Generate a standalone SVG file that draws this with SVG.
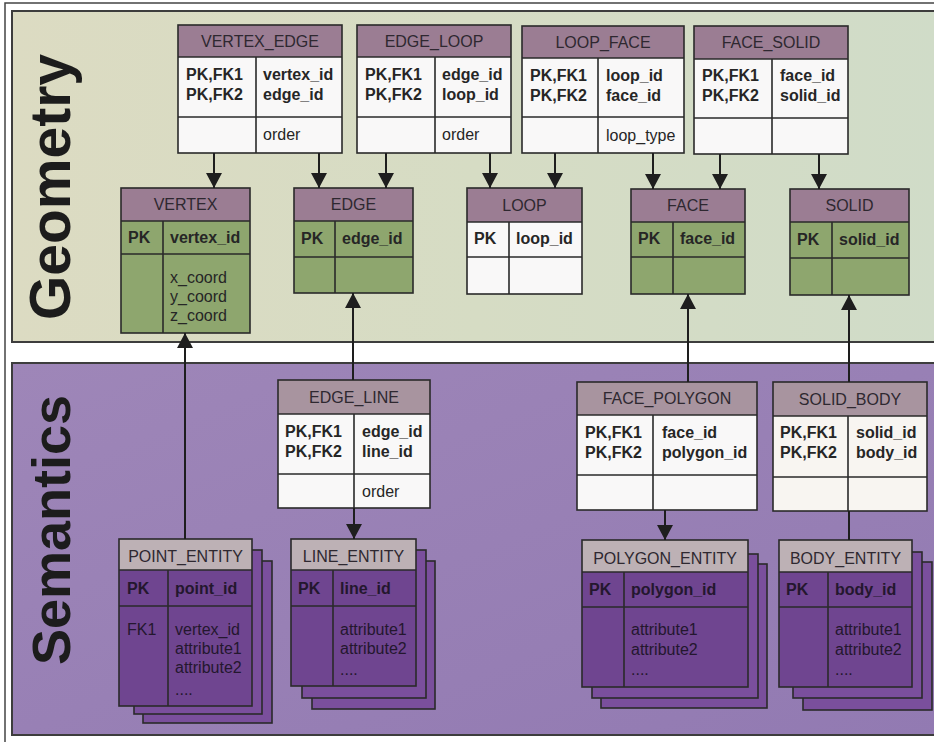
<svg xmlns="http://www.w3.org/2000/svg" width="934" height="742" viewBox="0 0 934 742">
<defs>
<linearGradient id="geoBg" x1="0" y1="0" x2="1" y2="0">
<stop offset="0" stop-color="#dcdbc2"/>
<stop offset="0.5" stop-color="#d6dcc4"/>
<stop offset="1" stop-color="#d0dcc8"/>
</linearGradient>
<linearGradient id="semBg" x1="0" y1="0" x2="1" y2="1">
<stop offset="0" stop-color="#9e86b8"/>
<stop offset="1" stop-color="#927ab2"/>
</linearGradient>
<marker id="arr" markerUnits="userSpaceOnUse" markerWidth="16" markerHeight="16" refX="15" refY="8" orient="auto">
<path d="M0,0 L15,8 L0,16 z" fill="#1e1e1e"/>
</marker>
</defs>
<style>
.frame{fill:none;stroke:#444;stroke-width:1.5}
.panel{stroke:#3d3d3d;stroke-width:2}
.ln{stroke:#2a2a2a;stroke-width:1.6;fill:none}
.hdrG{fill:#9b7d93}
.hdrS{fill:#a8949f}
.hdrE{fill:#bdb1b5}
.wh{fill:#f9f8f8}
.gr{fill:#8ea66e}
.pu{fill:#6f4590}
.pu2{fill:#7a4f9c}
.t{font-family:"Liberation Sans",Arial,sans-serif;font-size:16px;fill:#262626}
.b{font-weight:bold}
.h{text-anchor:middle;fill:#2e2830}
.te{fill:#24172e}
.big{font-family:"Liberation Sans",Arial,sans-serif;font-weight:bold;fill:#1c1c1c}
.conn{stroke:#1e1e1e;stroke-width:2;fill:none}
</style>

<!-- background frame -->
<rect x="0" y="0" width="934" height="742" fill="#ffffff"/>
<path class="frame" d="M5,742 L5,3 L934,3"/>

<!-- panels -->
<g id="geometry-panel">
<rect class="panel" x="12" y="11" width="930" height="331" fill="url(#geoBg)"/>
<text class="big" font-size="57" transform="translate(70,187) rotate(-90)" text-anchor="middle">Geometry</text>
</g>
<g id="semantics-panel">
<rect class="panel" x="12" y="363" width="930" height="372" fill="url(#semBg)"/>
<text class="big" font-size="54" transform="translate(70,530) rotate(-90)" text-anchor="middle">Semantics</text>
</g>

<!-- Geometry association tables -->
<g id="vertex_edge">
<rect class="hdrG" x="178" y="25" width="164" height="32"/>
<rect class="wh" x="178" y="57" width="164" height="96"/>
<rect class="ln" x="178" y="25" width="164" height="128"/>
<path class="ln" d="M178,57 H342 M178,117 H342 M256,57 V153"/>
<text class="t h" x="260" y="47">VERTEX_EDGE</text>
<text class="t b" x="186" y="80">PK,FK1</text>
<text class="t b" x="186" y="100">PK,FK2</text>
<text class="t b" x="263" y="80">vertex_id</text>
<text class="t b" x="263" y="100">edge_id</text>
<text class="t" x="263" y="140">order</text>
</g>
<g id="edge_loop">
<rect class="hdrG" x="357" y="25" width="154" height="32"/>
<rect class="wh" x="357" y="57" width="154" height="96"/>
<rect class="ln" x="357" y="25" width="154" height="128"/>
<path class="ln" d="M357,57 H511 M357,117 H511 M435,57 V153"/>
<text class="t h" x="434" y="47">EDGE_LOOP</text>
<text class="t b" x="365" y="80">PK,FK1</text>
<text class="t b" x="365" y="100">PK,FK2</text>
<text class="t b" x="442" y="80">edge_id</text>
<text class="t b" x="442" y="100">loop_id</text>
<text class="t" x="442" y="140">order</text>
</g>
<g id="loop_face">
<rect class="hdrG" x="522" y="26" width="162" height="32"/>
<rect class="wh" x="522" y="58" width="162" height="95"/>
<rect class="ln" x="522" y="26" width="162" height="127"/>
<path class="ln" d="M522,58 H684 M522,117 H684 M598,58 V153"/>
<text class="t h" x="603" y="48">LOOP_FACE</text>
<text class="t b" x="530" y="81">PK,FK1</text>
<text class="t b" x="530" y="101">PK,FK2</text>
<text class="t b" x="606" y="81">loop_id</text>
<text class="t b" x="606" y="101">face_id</text>
<text class="t" x="606" y="141">loop_type</text>
</g>
<g id="face_solid">
<rect class="hdrG" x="694" y="26" width="154" height="33"/>
<rect class="wh" x="694" y="59" width="154" height="95"/>
<rect class="ln" x="694" y="26" width="154" height="128"/>
<path class="ln" d="M694,59 H848 M694,118 H848 M772,59 V154"/>
<text class="t h" x="771" y="48">FACE_SOLID</text>
<text class="t b" x="702" y="81">PK,FK1</text>
<text class="t b" x="702" y="101">PK,FK2</text>
<text class="t b" x="780" y="81">face_id</text>
<text class="t b" x="780" y="101">solid_id</text>
</g>

<!-- Geometry main tables -->
<g id="vertex">
<rect class="hdrG" x="121" y="188" width="129" height="33"/>
<rect class="gr" x="121" y="221" width="129" height="112"/>
<rect class="ln" x="121" y="188" width="129" height="145"/>
<path class="ln" d="M121,221 H250 M121,254 H250 M163,221 V333"/>
<text class="t h" x="185.5" y="210">VERTEX</text>
<text class="t b" x="128" y="243">PK</text>
<text class="t b" x="170" y="243">vertex_id</text>
<text class="t" x="170" y="283">x_coord</text>
<text class="t" x="170" y="302">y_coord</text>
<text class="t" x="170" y="321">z_coord</text>
</g>
<g id="edge">
<rect class="hdrG" x="294" y="188" width="119" height="33"/>
<rect class="gr" x="294" y="221" width="119" height="72"/>
<rect class="ln" x="294" y="188" width="119" height="105"/>
<path class="ln" d="M294,221 H413 M294,257 H413 M335,221 V293"/>
<text class="t h" x="353.5" y="210">EDGE</text>
<text class="t b" x="301" y="244">PK</text>
<text class="t b" x="342" y="244">edge_id</text>
</g>
<g id="loop">
<rect class="hdrG" x="467" y="188" width="115" height="34"/>
<rect class="wh" x="467" y="222" width="115" height="72"/>
<rect class="ln" x="467" y="188" width="115" height="106"/>
<path class="ln" d="M467,222 H582 M467,257 H582 M509,222 V294"/>
<text class="t h" x="524.5" y="211">LOOP</text>
<text class="t b" x="474" y="244">PK</text>
<text class="t b" x="516" y="244">loop_id</text>
</g>
<g id="face">
<rect class="hdrG" x="631" y="189" width="114" height="33"/>
<rect class="gr" x="631" y="222" width="114" height="72"/>
<rect class="ln" x="631" y="189" width="114" height="105"/>
<path class="ln" d="M631,222 H745 M631,257 H745 M673,222 V294"/>
<text class="t h" x="688" y="211">FACE</text>
<text class="t b" x="638" y="244">PK</text>
<text class="t b" x="680" y="244">face_id</text>
</g>
<g id="solid">
<rect class="hdrG" x="790" y="189" width="119" height="33"/>
<rect class="gr" x="790" y="222" width="119" height="73"/>
<rect class="ln" x="790" y="189" width="119" height="106"/>
<path class="ln" d="M790,222 H909 M790,258 H909 M832,222 V295"/>
<text class="t h" x="849.5" y="211">SOLID</text>
<text class="t b" x="797" y="245">PK</text>
<text class="t b" x="839" y="245">solid_id</text>
</g>

<!-- Semantics association tables -->
<g id="edge_line">
<rect class="hdrS" x="278" y="380" width="152" height="34"/>
<rect class="wh" x="278" y="414" width="152" height="94"/>
<rect class="ln" x="278" y="380" width="152" height="128"/>
<path class="ln" d="M278,414 H430 M278,474 H430 M354,414 V508"/>
<text class="t h" x="354" y="403">EDGE_LINE</text>
<text class="t b" x="285" y="437">PK,FK1</text>
<text class="t b" x="285" y="457">PK,FK2</text>
<text class="t b" x="362" y="437">edge_id</text>
<text class="t b" x="362" y="457">line_id</text>
<text class="t" x="362" y="497">order</text>
</g>
<g id="face_polygon">
<rect class="hdrS" x="577" y="382" width="180" height="33"/>
<rect class="wh" x="577" y="415" width="180" height="95"/>
<rect class="ln" x="577" y="382" width="180" height="128"/>
<path class="ln" d="M577,415 H757 M577,475 H757 M653,415 V510"/>
<text class="t h" x="667" y="404">FACE_POLYGON</text>
<text class="t b" x="585" y="438">PK,FK1</text>
<text class="t b" x="585" y="458">PK,FK2</text>
<text class="t b" x="662" y="438">face_id</text>
<text class="t b" x="662" y="458">polygon_id</text>
</g>
<g id="solid_body">
<rect class="hdrS" x="773" y="382" width="154" height="34"/>
<rect x="773" y="416" width="154" height="95" fill="#f8f5f1"/>
<rect class="ln" x="773" y="382" width="154" height="129"/>
<path class="ln" d="M773,416 H927 M773,477 H927 M848,416 V511"/>
<text class="t h" x="850" y="405">SOLID_BODY</text>
<text class="t b" x="780" y="438">PK,FK1</text>
<text class="t b" x="780" y="458">PK,FK2</text>
<text class="t b" x="856" y="438">solid_id</text>
<text class="t b" x="856" y="458">body_id</text>
</g>

<!-- Semantics entity tables (stacked) -->
<g id="point_entity">
<rect class="pu2 ln" x="143" y="561" width="129" height="162"/>
<rect class="pu2 ln" x="134" y="550" width="128" height="164"/>
<rect class="hdrE" x="119" y="539" width="133" height="31"/>
<rect class="pu" x="119" y="570" width="133" height="136"/>
<rect class="ln" x="119" y="539" width="133" height="167"/>
<path class="ln" d="M119,570 H252 M119,606 H252 M168,570 V706"/>
<text class="t h" x="185.5" y="562">POINT_ENTITY</text>
<text class="t b te" x="127" y="594">PK</text>
<text class="t b te" x="175" y="594">point_id</text>
<text class="t te" x="127" y="635">FK1</text>
<text class="t te" x="175" y="635">vertex_id</text>
<text class="t te" x="175" y="654">attribute1</text>
<text class="t te" x="175" y="673">attribute2</text>
<text class="t te" x="175" y="695">....</text>
</g>
<g id="line_entity">
<rect class="pu2 ln" x="312" y="561" width="123" height="148"/>
<rect class="pu2 ln" x="302" y="550" width="124" height="148"/>
<rect class="hdrE" x="291" y="539" width="125" height="31"/>
<rect class="pu" x="291" y="570" width="125" height="116"/>
<rect class="ln" x="291" y="539" width="125" height="147"/>
<path class="ln" d="M291,570 H416 M291,606 H416 M333,570 V686"/>
<text class="t h" x="353.5" y="562">LINE_ENTITY</text>
<text class="t b te" x="298" y="594">PK</text>
<text class="t b te" x="340" y="594">line_id</text>
<text class="t te" x="340" y="635">attribute1</text>
<text class="t te" x="340" y="654">attribute2</text>
<text class="t te" x="340" y="675">....</text>
</g>
<g id="polygon_entity">
<rect class="pu2 ln" x="601" y="564" width="166" height="144"/>
<rect class="pu2 ln" x="592" y="554" width="166" height="144"/>
<rect class="hdrE" x="582" y="540" width="166" height="32"/>
<rect class="pu" x="582" y="572" width="166" height="115"/>
<rect class="ln" x="582" y="540" width="166" height="147"/>
<path class="ln" d="M582,572 H748 M582,607 H748 M624,572 V687"/>
<text class="t h" x="665" y="564">POLYGON_ENTITY</text>
<text class="t b te" x="589" y="595">PK</text>
<text class="t b te" x="631" y="595">polygon_id</text>
<text class="t te" x="631" y="635">attribute1</text>
<text class="t te" x="631" y="655">attribute2</text>
<text class="t te" x="631" y="675">....</text>
</g>
<g id="body_entity">
<rect class="pu2 ln" x="803" y="562" width="129" height="148"/>
<rect class="pu2 ln" x="793" y="552" width="129" height="146"/>
<rect class="hdrE" x="779" y="540" width="133" height="32"/>
<rect class="pu" x="779" y="572" width="133" height="115"/>
<rect class="ln" x="779" y="540" width="133" height="147"/>
<path class="ln" d="M779,572 H912 M779,607 H912 M828,572 V687"/>
<text class="t h" x="845.5" y="564">BODY_ENTITY</text>
<text class="t b te" x="786" y="595">PK</text>
<text class="t b te" x="835" y="595">body_id</text>
<text class="t te" x="835" y="635">attribute1</text>
<text class="t te" x="835" y="655">attribute2</text>
<text class="t te" x="835" y="675">....</text>
</g>

<!-- connectors -->
<g id="connectors">
<line class="conn" x1="214" y1="153" x2="214" y2="188" marker-end="url(#arr)"/>
<line class="conn" x1="319" y1="153" x2="319" y2="188" marker-end="url(#arr)"/>
<line class="conn" x1="386" y1="153" x2="386" y2="188" marker-end="url(#arr)"/>
<line class="conn" x1="490" y1="153" x2="490" y2="188" marker-end="url(#arr)"/>
<line class="conn" x1="555" y1="153" x2="555" y2="188" marker-end="url(#arr)"/>
<line class="conn" x1="653" y1="153" x2="653" y2="189" marker-end="url(#arr)"/>
<line class="conn" x1="720" y1="154" x2="720" y2="189" marker-end="url(#arr)"/>
<line class="conn" x1="819" y1="154" x2="819" y2="189" marker-end="url(#arr)"/>
<line class="conn" x1="185" y1="539" x2="185" y2="333" marker-end="url(#arr)"/>
<line class="conn" x1="353" y1="380" x2="353" y2="293" marker-end="url(#arr)"/>
<line class="conn" x1="354" y1="508" x2="354" y2="539" marker-end="url(#arr)"/>
<line class="conn" x1="688" y1="382" x2="688" y2="294" marker-end="url(#arr)"/>
<line class="conn" x1="849" y1="382" x2="849" y2="295" marker-end="url(#arr)"/>
<line class="conn" x1="665" y1="510" x2="665" y2="540" marker-end="url(#arr)"/>
<line class="conn" x1="849" y1="511" x2="849" y2="540"/>
</g>
</svg>
